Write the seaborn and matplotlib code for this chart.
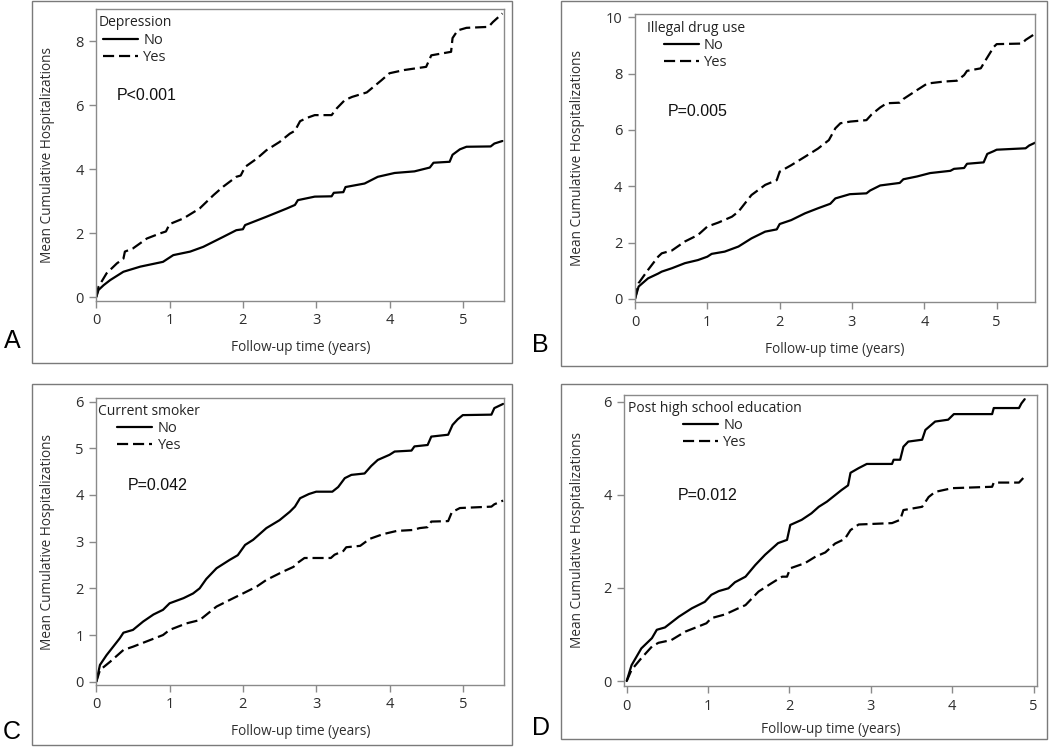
import numpy as np
import pandas as pd
import matplotlib
matplotlib.use("Agg")
import matplotlib.pyplot as plt
import seaborn as sns
from matplotlib.lines import Line2D
from matplotlib.patches import Rectangle

sns.set_theme(style="white")
plt.rcParams["font.family"] = ["Open Sans", "DejaVu Sans"]

# ---------------- data: (follow-up years, mean cumulative hospitalizations) ----------------
a_no = [(0, 0), (0.03, 0.22), (0.10, 0.37), (0.19, 0.53), (0.37, 0.79), (0.60, 0.95), (0.91, 1.10),
        (1.05, 1.31), (1.28, 1.42), (1.46, 1.57), (1.73, 1.88), (1.91, 2.09), (2.00, 2.12), (2.03, 2.25),
        (2.32, 2.51), (2.60, 2.77), (2.71, 2.88), (2.75, 3.03), (2.98, 3.14), (3.21, 3.15), (3.24, 3.26),
        (3.37, 3.28), (3.40, 3.44), (3.66, 3.55), (3.84, 3.76), (4.07, 3.88), (4.34, 3.93), (4.55, 4.05),
        (4.60, 4.20), (4.82, 4.23), (4.86, 4.45), (4.96, 4.62), (5.05, 4.70), (5.38, 4.71), (5.43, 4.80),
        (5.54, 4.88)]
a_yes = [(0, 0), (0.03, 0.32), (0.14, 0.74), (0.28, 1.05), (0.37, 1.20), (0.39, 1.42), (0.50, 1.52),
         (0.69, 1.83), (0.87, 1.99), (0.95, 2.05), (1.00, 2.28), (1.19, 2.46), (1.41, 2.77), (1.60, 3.19),
         (1.73, 3.45), (1.91, 3.76), (1.97, 3.80), (2.03, 4.07), (2.19, 4.33), (2.32, 4.59), (2.50, 4.85),
         (2.64, 5.11), (2.71, 5.20), (2.78, 5.50), (2.87, 5.60), (2.98, 5.69), (3.21, 5.69), (3.28, 5.90),
         (3.39, 6.16), (3.49, 6.26), (3.69, 6.40), (3.89, 6.78), (4.00, 7.00), (4.20, 7.10), (4.50, 7.20),
         (4.57, 7.56), (4.84, 7.67), (4.86, 8.10), (4.93, 8.34), (5.05, 8.42), (5.35, 8.45), (5.41, 8.60),
         (5.54, 8.87)]

b_no = [(0, 0), (0.05, 0.44), (0.18, 0.73), (0.32, 0.90), (0.37, 0.97), (0.51, 1.09), (0.69, 1.27),
        (0.87, 1.38), (1.00, 1.50), (1.06, 1.60), (1.24, 1.68), (1.43, 1.86), (1.61, 2.15), (1.80, 2.39),
        (1.96, 2.47), (2.00, 2.66), (2.16, 2.80), (2.35, 3.04), (2.53, 3.22), (2.70, 3.38), (2.77, 3.57),
        (2.97, 3.72), (3.20, 3.75), (3.25, 3.85), (3.39, 4.03), (3.66, 4.12), (3.71, 4.25), (3.90, 4.35),
        (4.08, 4.47), (4.36, 4.55), (4.41, 4.62), (4.55, 4.65), (4.59, 4.80), (4.82, 4.85), (4.87, 5.15),
        (4.96, 5.25), (5.00, 5.30), (5.40, 5.35), (5.45, 5.45), (5.55, 5.57)]
b_yes = [(0, 0), (0.05, 0.56), (0.18, 1.03), (0.32, 1.50), (0.37, 1.62), (0.51, 1.72), (0.69, 2.04),
         (0.87, 2.27), (1.00, 2.57), (1.15, 2.71), (1.34, 2.92), (1.43, 3.10), (1.61, 3.69), (1.80, 4.05),
         (1.96, 4.22), (2.00, 4.52), (2.16, 4.75), (2.35, 5.05), (2.53, 5.34), (2.68, 5.64), (2.77, 6.06),
         (2.84, 6.24), (2.98, 6.30), (3.20, 6.35), (3.27, 6.55), (3.39, 6.80), (3.48, 6.95), (3.66, 6.97),
         (3.71, 7.10), (3.90, 7.42), (4.04, 7.65), (4.27, 7.72), (4.45, 7.75), (4.55, 7.95), (4.59, 8.10),
         (4.78, 8.19), (4.84, 8.45), (4.96, 8.95), (5.00, 9.05), (5.35, 9.07), (5.40, 9.20), (5.55, 9.45)]

c_no = [(0, 0), (0.05, 0.36), (0.14, 0.57), (0.23, 0.75), (0.32, 0.93), (0.37, 1.05), (0.50, 1.11),
        (0.64, 1.29), (0.78, 1.44), (0.91, 1.54), (1.00, 1.68), (1.19, 1.79), (1.32, 1.89), (1.41, 2.00),
        (1.50, 2.20), (1.64, 2.43), (1.82, 2.61), (1.93, 2.71), (2.03, 2.93), (2.14, 3.04), (2.32, 3.29),
        (2.50, 3.46), (2.64, 3.64), (2.71, 3.75), (2.78, 3.93), (2.90, 4.02), (3.00, 4.07), (3.22, 4.07),
        (3.30, 4.17), (3.39, 4.36), (3.48, 4.43), (3.66, 4.46), (3.75, 4.62), (3.84, 4.75), (4.00, 4.86),
        (4.07, 4.93), (4.30, 4.95), (4.34, 5.04), (4.52, 5.07), (4.57, 5.25), (4.80, 5.29), (4.86, 5.50),
        (4.93, 5.62), (5.00, 5.71), (5.39, 5.72), (5.43, 5.86), (5.55, 5.95)]
c_yes = [(0, 0), (0.05, 0.25), (0.19, 0.43), (0.37, 0.68), (0.50, 0.75), (0.73, 0.89), (0.91, 1.00),
         (1.00, 1.11), (1.23, 1.25), (1.41, 1.32), (1.64, 1.61), (1.87, 1.79), (2.00, 1.89), (2.19, 2.04),
         (2.32, 2.18), (2.55, 2.36), (2.69, 2.46), (2.75, 2.55), (2.84, 2.65), (3.20, 2.65), (3.25, 2.72),
         (3.37, 2.80), (3.41, 2.88), (3.60, 2.91), (3.73, 3.06), (3.91, 3.16), (4.10, 3.23), (4.32, 3.25),
         (4.41, 3.29), (4.52, 3.31), (4.57, 3.43), (4.80, 3.44), (4.85, 3.63), (4.96, 3.72), (5.39, 3.75),
         (5.43, 3.80), (5.55, 3.88)]

d_no = [(0, 0), (0.06, 0.34), (0.18, 0.70), (0.31, 0.92), (0.37, 1.10), (0.47, 1.15), (0.64, 1.38),
        (0.80, 1.56), (0.96, 1.70), (1.04, 1.85), (1.13, 1.93), (1.25, 1.99), (1.33, 2.12), (1.46, 2.24),
        (1.58, 2.49), (1.70, 2.71), (1.86, 2.96), (1.97, 3.03), (2.01, 3.35), (2.15, 3.46), (2.27, 3.60),
        (2.36, 3.74), (2.46, 3.85), (2.64, 4.10), (2.72, 4.20), (2.75, 4.47), (2.85, 4.57), (2.95, 4.66),
        (3.26, 4.66), (3.28, 4.75), (3.36, 4.75), (3.40, 5.03), (3.46, 5.14), (3.63, 5.18), (3.67, 5.39),
        (3.79, 5.57), (3.95, 5.61), (4.02, 5.73), (4.49, 5.73), (4.51, 5.86), (4.82, 5.86), (4.85, 5.96),
        (4.89, 6.05)]
d_yes = [(0, 0), (0.06, 0.24), (0.18, 0.49), (0.31, 0.74), (0.39, 0.82), (0.55, 0.88), (0.72, 1.06),
         (0.88, 1.17), (0.98, 1.24), (1.04, 1.35), (1.21, 1.43), (1.37, 1.56), (1.46, 1.63), (1.62, 1.92),
         (1.78, 2.10), (1.91, 2.24), (1.97, 2.24), (2.01, 2.42), (2.19, 2.53), (2.32, 2.67), (2.44, 2.76),
         (2.56, 2.95), (2.68, 3.05), (2.75, 3.24), (2.85, 3.36), (3.26, 3.39), (3.36, 3.46), (3.40, 3.67),
         (3.63, 3.74), (3.71, 3.95), (3.79, 4.06), (4.00, 4.14), (4.49, 4.17), (4.51, 4.26), (4.82, 4.26),
         (4.89, 4.39)]

groups = ["No", "Yes"]
panel_letters = ["A", "B", "C", "D"]
legend_titles = ["Depression", "Illegal drug use", "Current smoker", "Post high school education"]
p_values = ["P<0.001", "P=0.005", "P=0.042", "P=0.012"]
x_ticks = [[0, 1, 2, 3, 4, 5]] * 4
y_ticks = [[0, 2, 4, 6, 8], [0, 2, 4, 6, 8, 10], [0, 1, 2, 3, 4, 5, 6], [0, 2, 4, 6]]
series = [(a_no, a_yes), (b_no, b_yes), (c_no, c_yes), (d_no, d_yes)]
xlabel = "Follow-up time (years)"
ylabel = "Mean Cumulative Hospitalizations"

# ---------------- layout (pixels) ----------------
W, H = 1050, 749
fig = plt.figure(figsize=(W / 100, H / 100), dpi=100)

def frac(l, t, r, b):
    return [l / W, 1 - b / H, (r - l) / W, (b - t) / H]

layout = [
    dict(ax=(96.3, 9.3, 504.3, 301.0), outer=(31.7, 1.0, 511.7, 362.7), xlim=(0, 5.566), ylim=(-0.125, 9.0),
         letter=(12, 341), pval=(117, 95), leg=(98.3, 15.5), ylab_x=-0.1005, xlab_y=-0.132),
    dict(ax=(635.0, 14.0, 1035.0, 302.3), outer=(561.0, 1.0, 1046.7, 366.0), xlim=(0, 5.53), ylim=(-0.12, 10.12),
         letter=(540, 345), pval=(668, 112), leg=(646.7, 20.5), ylab_x=-0.125, xlab_y=-0.137),
    dict(ax=(96.3, 398.3, 504.3, 685.0), outer=(31.7, 384.3, 511.7, 745.0), xlim=(0, 5.566), ylim=(-0.07, 6.07),
         letter=(12, 732), pval=(128, 485), leg=(98.3, 404.0), ylab_x=-0.1005, xlab_y=-0.137),
    dict(ax=(624.0, 395.0, 1037.3, 686.0), outer=(561.0, 384.3, 1046.7, 739.3), xlim=(-0.033, 5.045), ylim=(-0.107, 6.14),
         letter=(541, 728), pval=(678, 496), leg=(628.3, 400.5), ylab_x=-0.094, xlab_y=-0.125),
]

frame_col = "#8a8a8a"
text_col = "#2e2e2e"
dash_pat = (5, 2.2)
lw = 1.6

for i, lay in enumerate(layout):
    # outer panel box
    l, t, r, b = lay["outer"]
    fig.add_artist(Rectangle((l / W, 1 - b / H), (r - l) / W, (b - t) / H, transform=fig.transFigure,
                             fill=False, edgecolor="#7a7a7a", linewidth=1.0))
    ax = fig.add_axes(frac(*lay["ax"]))
    no, yes = series[i]
    df = pd.concat([
        pd.DataFrame({"t": [p[0] for p in no], "v": [p[1] for p in no], "group": "No"}),
        pd.DataFrame({"t": [p[0] for p in yes], "v": [p[1] for p in yes], "group": "Yes"}),
    ], ignore_index=True)
    sns.lineplot(data=df, x="t", y="v", style="group", style_order=groups,
                 dashes={"No": "", "Yes": dash_pat}, color="black", linewidth=lw,
                 estimator=None, sort=False, legend=False, ax=ax)
    ax.set_xlim(*lay["xlim"])
    ax.set_ylim(*lay["ylim"])
    ax.set_xticks(x_ticks[i])
    ax.set_yticks(y_ticks[i])
    for s in ax.spines.values():
        s.set_color(frame_col)
        s.set_linewidth(1.0)
    ax.tick_params(axis="both", direction="out", length=5, width=1.0, color=frame_col,
                   labelsize=10.5, labelcolor=text_col, left=True, bottom=True, pad=4)
    ax.set_xlabel(xlabel, fontsize=9.8, color=text_col)
    ax.set_ylabel(ylabel, fontsize=9.8, color=text_col)
    ax.xaxis.set_label_coords(0.5, lay["xlab_y"])
    ax.yaxis.set_label_coords(lay["ylab_x"], 0.5)

    handles = [Line2D([], [], color="black", linewidth=lw),
               Line2D([], [], color="black", linewidth=lw, dashes=dash_pat)]
    lx, ly = lay["leg"]
    leg = ax.legend(handles, groups, title=legend_titles[i], loc="upper left",
                    bbox_to_anchor=(lx / W, 1 - ly / H), bbox_transform=fig.transFigure,
                    frameon=False, fontsize=10.5, title_fontsize=10, handlelength=2.4,
                    handletextpad=0.35, labelspacing=0.15, borderpad=0, borderaxespad=0)
    leg.get_title().set_color("#222222")

    px, py = lay["pval"]
    fig.text(px / W, 1 - py / H, p_values[i], ha="left", va="center", fontsize=11.5,
             family=["Liberation Sans", "DejaVu Sans"], color="#111111")
    lx2, ly2 = lay["letter"]
    fig.text(lx2 / W, 1 - ly2 / H, panel_letters[i], ha="center", va="center", fontsize=18,
             family=["Liberation Sans", "DejaVu Sans"], color="black")

fig.savefig("out.png", dpi=100)
